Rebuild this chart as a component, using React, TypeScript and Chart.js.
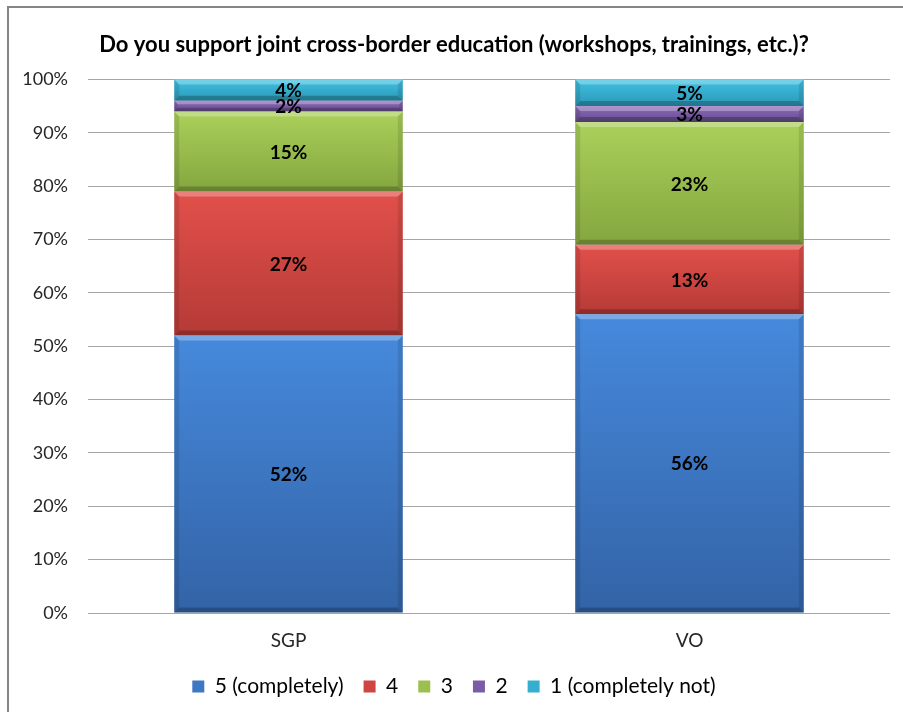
import React, { useEffect, useRef } from "react";
import { Chart, registerables } from "chart.js";

Chart.register(...registerables);

const TITLE = "Do you support joint cross-border education (workshops, trainings, etc.)?";
const categories = ["SGP", "VO"];
const seriesNames = ["5 (completely)", "4", "3", "2", "1 (completely not)"];
const s5 = [52, 56];
const s4 = [27, 13];
const s3 = [15, 23];
const s2 = [2, 3];
const s1 = [4, 5];
const seriesValues = [s5, s4, s3, s2, s1];
const yTicks = [0, 10, 20, 30, 40, 50, 60, 70, 80, 90, 100];

const topColors = ["#4689dc", "#e2504b", "#abd05a", "#8d6cbc", "#40c2e2"];
const botColors = ["#3363a6", "#b53a36", "#84a63f", "#654b8c", "#2b97b6"];
const legendColors = ["#3d78c4", "#cf4541", "#9cc04f", "#7a5ca6", "#36aed0"];

const FONT = "Lato, 'Open Sans', sans-serif";

const labelPlugin = {
  id: "segLabels",
  afterDatasetsDraw(chart: any) {
    const ctx = chart.ctx;
    ctx.save();
    chart.data.datasets.forEach((ds: any, di: number) => {
      const meta = chart.getDatasetMeta(di);
      meta.data.forEach((el: any) => {
        const { x, y, base, width } = el.getProps(["x", "y", "base", "width"], true);
        const l = x - width / 2;
        const h = base - y;
        if (h <= 0) return;
        const e = Math.min(5, h / 3);
        ctx.fillStyle = "rgba(255,255,255,0.28)";
        ctx.beginPath();
        ctx.moveTo(l, y);
        ctx.lineTo(l + width, y);
        ctx.lineTo(l + width - e, y + e);
        ctx.lineTo(l + e, y + e);
        ctx.closePath();
        ctx.fill();
        ctx.fillStyle = "rgba(0,0,0,0.22)";
        ctx.beginPath();
        ctx.moveTo(l, base);
        ctx.lineTo(l + width, base);
        ctx.lineTo(l + width - e, base - e);
        ctx.lineTo(l + e, base - e);
        ctx.closePath();
        ctx.fill();
        ctx.fillStyle = "rgba(0,0,0,0.10)";
        ctx.beginPath();
        ctx.moveTo(l, y);
        ctx.lineTo(l + e, y + e);
        ctx.lineTo(l + e, base - e);
        ctx.lineTo(l, base);
        ctx.closePath();
        ctx.fill();
        ctx.beginPath();
        ctx.moveTo(l + width, y);
        ctx.lineTo(l + width - e, y + e);
        ctx.lineTo(l + width - e, base - e);
        ctx.lineTo(l + width, base);
        ctx.closePath();
        ctx.fill();
      });
    });
    ctx.fillStyle = "#000";
    ctx.font = `bold 19px ${FONT}`;
    ctx.textAlign = "center";
    ctx.textBaseline = "middle";
    chart.data.datasets.forEach((ds: any, di: number) => {
      const meta = chart.getDatasetMeta(di);
      meta.data.forEach((el: any, i: number) => {
        const { x, y, base } = el.getProps(["x", "y", "base"], true);
        ctx.fillText(ds.data[i] + "%", x, (y + base) / 2 + 1);
      });
    });
    ctx.restore();
  },
};

function makeBg(di: number) {
  return (c: any) => {
    const chart = c.chart;
    const ys = chart.scales && chart.scales.y;
    if (!ys || c.dataIndex === undefined) return legendColors[di];
    let start = 0;
    for (let k = 0; k < di; k++) start += seriesValues[k][c.dataIndex];
    const end = start + seriesValues[di][c.dataIndex];
    const top = ys.getPixelForValue(end);
    const bot = ys.getPixelForValue(start);
    if (!isFinite(top) || !isFinite(bot) || top === bot) return legendColors[di];
    const g = chart.ctx.createLinearGradient(0, top, 0, bot);
    g.addColorStop(0, topColors[di]);
    g.addColorStop(1, botColors[di]);
    return g;
  };
}

export default function App() {
  const ref = useRef<HTMLCanvasElement | null>(null);
  useEffect(() => {
    if (!ref.current) return;
    const chart = new Chart(ref.current, {
      type: "bar",
      data: {
        labels: categories,
        datasets: seriesValues.map((vals, di) => ({
          label: seriesNames[di],
          data: vals,
          backgroundColor: makeBg(di),
          borderWidth: 0,
          barPercentage: 0.57,
          categoryPercentage: 1,
        })),
      },
      options: {
        responsive: false,
        animation: false,
        layout: { padding: { left: 18, right: 13, top: 8, bottom: 5 } },
        plugins: {
          title: {
            display: true,
            text: TITLE,
            color: "#000",
            font: { family: FONT, size: 22, weight: "bold" },
            padding: { top: 24, bottom: 21 },
          },
          legend: {
            position: "bottom",
            labels: {
              color: "#262626",
              font: { family: FONT, size: 21 },
              boxWidth: 12,
              boxHeight: 12,
              padding: 20,
              generateLabels: () =>
                seriesNames.map((n, i) => ({
                  text: n,
                  fillStyle: legendColors[i],
                  strokeStyle: legendColors[i],
                  lineWidth: 0,
                  datasetIndex: i,
                  hidden: false,
                })),
            },
          },
          tooltip: { enabled: false },
        },
        scales: {
          x: {
            stacked: true,
            grid: { display: false, drawTicks: false },
            border: { display: false },
            ticks: { color: "#262626", font: { family: FONT, size: 19 }, padding: 16 },
            afterFit: (s: any) => {
              s.height = 43;
            },
          },
          y: {
            stacked: true,
            min: 0,
            max: 100,
            afterBuildTicks: (s: any) => {
              s.ticks = yTicks.map((v) => ({ value: v }));
            },
            afterFit: (s: any) => {
              s.width = 70;
            },
            grid: { color: "#a6a6a6", drawTicks: false, lineWidth: 1 },
            border: { display: false },
            ticks: {
              color: "#262626",
              font: { family: FONT, size: 18 },
              padding: 20,
              callback: (v: any) => v + "%",
            },
          },
        },
      },
      plugins: [labelPlugin],
    });
    return () => chart.destroy();
  }, []);
  return (
    <div style={{ position: "fixed", left: 0, top: 0, width: 903, height: 712, background: "#fff", overflow: "hidden" }}>
      <canvas ref={ref} width={903} height={712} style={{ position: "absolute", left: 0, top: 0 }} />
      <div
        style={{
          position: "absolute",
          left: 7,
          top: 6,
          width: 1000,
          height: 1000,
          borderLeft: "2px solid #858585",
          borderTop: "2px solid #858585",
          pointerEvents: "none",
        }}
      />
    </div>
  );
}
